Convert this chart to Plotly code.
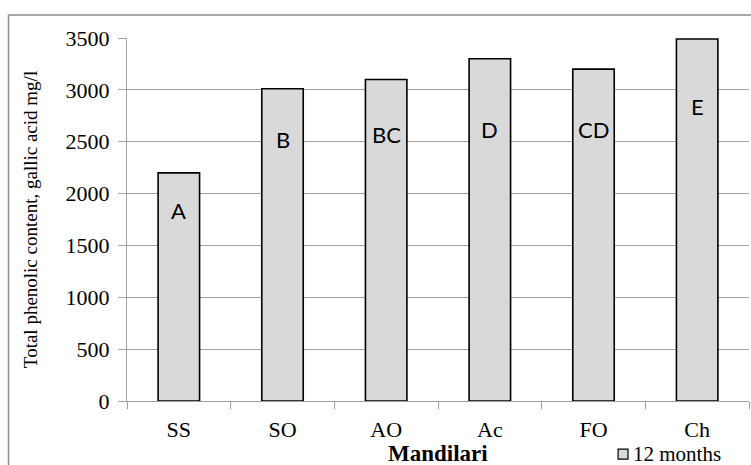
import plotly.graph_objects as go

# Total phenolic content after 12 months, Mandilari wines
categories = ["SS", "SO", "AO", "Ac", "FO", "Ch"]
phenolics = [2200, 3010, 3100, 3300, 3200, 3490]
groups = ["A", "B", "BC", "D", "CD", "E"]
y_ticks = [0, 500, 1000, 1500, 2000, 2500, 3000, 3500]
series_name = "12 months"

SERIF = "Liberation Serif, Times New Roman, serif"
GRID = "#a0a0a0"
BAR_FILL = "#d9d9d9"

fig = go.Figure()
fig.add_trace(go.Bar(
    x=categories,
    y=phenolics,
    width=0.4,
    marker=dict(color=BAR_FILL, line=dict(color="black", width=1.6)),
    name=series_name,
    showlegend=False,
))

# significance-group letters inside the bars (y in data units)
letter_y = [1840, 2525, 2565, 2615, 2615, 2835]
for cat, grp, ly in zip(categories, groups, letter_y):
    fig.add_annotation(
        x=cat, y=ly, text=grp, showarrow=False,
        font=dict(family="Lato, Open Sans, sans-serif", size=22, color="black"),
        xanchor="center", yanchor="middle",
    )

# outer chart frame
fig.add_shape(
    type="rect", xref="paper", yref="paper",
    x0=-0.1905, x1=1.02, y0=-0.3, y1=1.0634,
    line=dict(color="#8c8c8c", width=1.5), layer="below",
)

# x-axis title
fig.add_annotation(
    xref="paper", yref="paper", x=0.5, y=-0.145,
    text="<b>Mandilari</b>", showarrow=False,
    xanchor="center", yanchor="middle",
    font=dict(family=SERIF, size=23, color="black"),
)

# legend key: small filled square followed by the series name
fig.add_shape(
    type="rect", xref="paper", yref="paper",
    x0=0.7895, x1=0.8055, y0=-0.1325, y1=-0.1600,
    fillcolor=BAR_FILL, line=dict(color="black", width=1.2),
)
fig.add_annotation(
    xref="paper", yref="paper", x=0.811, y=-0.145,
    text=series_name, showarrow=False,
    xanchor="left", yanchor="middle",
    font=dict(family=SERIF, size=21, color="black"),
)

fig.update_layout(
    width=751, height=465,
    margin=dict(l=127, r=2, t=38, b=64),
    plot_bgcolor="white", paper_bgcolor="white",
    font=dict(family=SERIF, color="black"),
    showlegend=False,
)

fig.update_xaxes(
    type="category",
    showline=True, linecolor=GRID, linewidth=1.3,
    ticks="outside", tickson="boundaries", ticklen=7, tickcolor=GRID, tickwidth=1.3,
    tickfont=dict(family=SERIF, size=22, color="black"),
    ticklabelstandoff=8,
    showgrid=False,
)

fig.update_yaxes(
    range=[0, 3500], tickvals=y_ticks,
    showline=True, linecolor=GRID, linewidth=1.3,
    ticks="outside", ticklen=8, tickcolor=GRID, tickwidth=1.3,
    showgrid=True, gridcolor=GRID, gridwidth=1.3,
    zeroline=False,
    tickfont=dict(family=SERIF, size=22, color="black"),
    ticklabelstandoff=4,
    title=dict(text="Total phenolic content, gallic acid mg/l",
               font=dict(family=SERIF, size=19, color="black"), standoff=22),
)

fig.write_html("out.html")
